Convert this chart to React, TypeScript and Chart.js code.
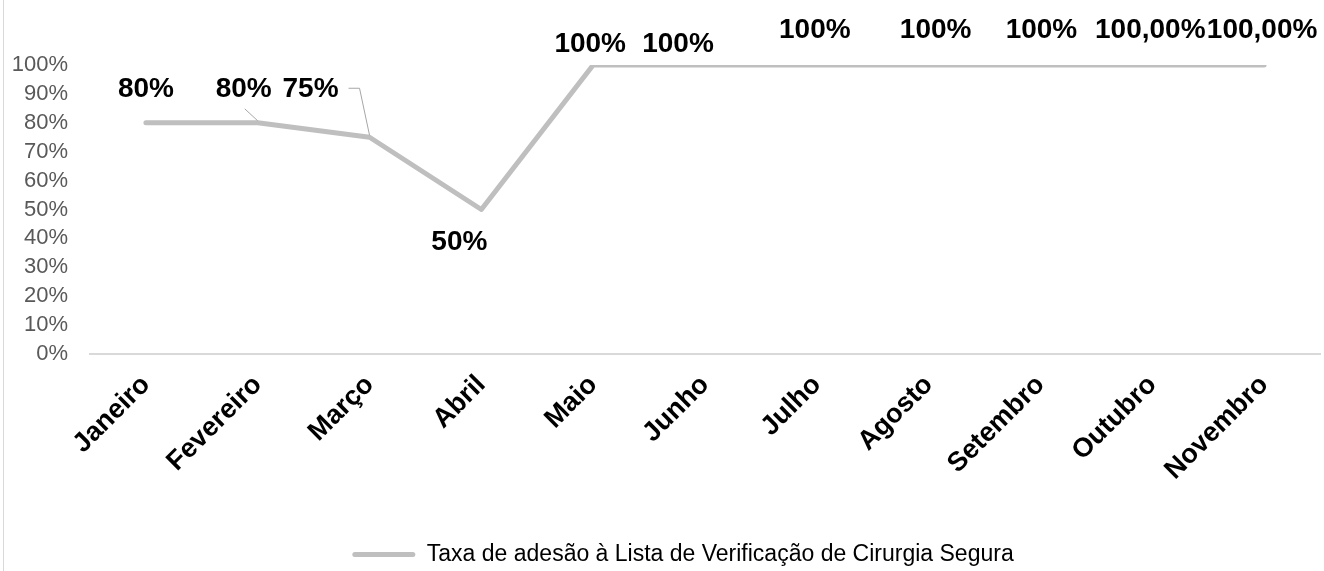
import React, { useEffect, useRef } from "react";
import { Chart, registerables } from "chart.js";

Chart.register(...registerables);

const categories = [
  "Janeiro",
  "Fevereiro",
  "Março",
  "Abril",
  "Maio",
  "Junho",
  "Julho",
  "Agosto",
  "Setembro",
  "Outubro",
  "Novembro",
];
const adesao = [80, 80, 75, 50, 100, 100, 100, 100, 100, 100, 100];
const labelDecimals = [0, 0, 0, 0, 0, 0, 0, 0, 0, 2, 2];
const seriesName = "Taxa de adesão à Lista de Verificação de Cirurgia Segura";
const yMin = 0;
const yMax = 100;
const yStep = 10;

// label placement (style) relative to each point
const labelOffsets: [number, number][] = [
  [0, -34],
  [-14, -34],
  [-59, -48],
  [-22, 33],
  [-3, -21],
  [-27, -21],
  [-2, -35],
  [7, -35],
  [1, -35],
  [-2, -35],
  [-2, -35],
];
// leader lines (style) relative to point: list of polyline vertices
const leaders: Record<number, [number, number][]> = {
  1: [
    [-13, -14],
    [0, -2],
  ],
  2: [
    [-21, -49],
    [-10, -49],
    [0, -2],
  ],
};

const FONT = "'Liberation Sans', Arial, Helvetica, sans-serif";

const fmt = (v: number, d: number) => v.toFixed(d).replace(".", ",") + "%";

const legendShiftPlugin = {
  id: "legendShiftPlugin",
  afterLayout(chart: any) {
    const lg = chart.legend;
    if (!lg) return;
    lg.left += 23;
    lg.right += 23;
    lg.top += 5;
    lg.bottom += 5;
  },
};

const dataLabelPlugin = {
  id: "dataLabelPlugin",
  afterDatasetsDraw(chart: any) {
    const ctx = chart.ctx;
    const meta = chart.getDatasetMeta(0);
    ctx.save();
    ctx.strokeStyle = "#a6a6a6";
    ctx.lineWidth = 1;
    Object.keys(leaders).forEach((k) => {
      const i = Number(k);
      const el = meta.data[i];
      const pts = leaders[i];
      ctx.beginPath();
      pts.forEach((p, j) => {
        const x = el.x + p[0];
        const y = el.y + p[1];
        if (j === 0) ctx.moveTo(x, y);
        else ctx.lineTo(x, y);
      });
      ctx.stroke();
    });
    ctx.font = `bold 28px ${FONT}`;
    ctx.fillStyle = "#000000";
    ctx.textAlign = "center";
    ctx.textBaseline = "middle";
    meta.data.forEach((el: any, i: number) => {
      const [dx, dy] = labelOffsets[i];
      ctx.fillText(fmt(adesao[i], labelDecimals[i]), el.x + dx, el.y + dy);
    });
    ctx.restore();
  },
};

export default function App() {
  const canvasRef = useRef<HTMLCanvasElement | null>(null);

  useEffect(() => {
    if (!canvasRef.current) return;
    const chart = new Chart(canvasRef.current, {
      type: "line",
      data: {
        labels: categories,
        datasets: [
          {
            label: seriesName,
            data: adesao,
            borderColor: "#bfbfbf",
            backgroundColor: "#bfbfbf",
            borderWidth: 5,
            pointRadius: 0,
            pointHoverRadius: 0,
            tension: 0,
            borderJoinStyle: "round",
            borderCapStyle: "round",
          },
        ],
      },
      options: {
        animation: false,
        responsive: false,
        maintainAspectRatio: false,
        layout: { padding: { top: 65, left: 0, right: 4, bottom: 0 } },
        plugins: {
          tooltip: { enabled: false },
          legend: {
            position: "bottom",
            labels: {
              font: { family: FONT, size: 23 },
              color: "#000000",
              boxWidth: 63,
              boxHeight: 5,
              padding: 10,
              generateLabels: (c: any) =>
                Chart.defaults.plugins.legend.labels
                  .generateLabels(c)
                  .map((l: any) => ({ ...l, lineWidth: 0, borderRadius: 2.5 })),
            },
          },
        },
        scales: {
          x: {
            offset: true,
            grid: { display: false, drawTicks: false },
            border: { display: true, color: "#d9d9d9", width: 2 },
            ticks: {
              font: { family: FONT, size: 27, weight: "bold" },
              color: "#000000",
              minRotation: 45,
              maxRotation: 45,
              padding: 15,
              autoSkip: false,
            },
            afterFit: (s: any) => {
              s.height = 174;
            },
          },
          y: {
            min: yMin,
            max: yMax,
            grid: { display: false, drawTicks: false },
            border: { display: false },
            ticks: {
              stepSize: yStep,
              autoSkip: false,
              font: { family: FONT, size: 22 },
              color: "#595959",
              padding: 22,
              callback: (v: any) => v + "%",
            },
            afterFit: (s: any) => {
              s.width = 90;
            },
          },
        },
      },
      plugins: [dataLabelPlugin, legendShiftPlugin],
    });
    return () => chart.destroy();
  }, []);

  return (
    <div
      style={{
        position: "fixed",
        left: 0,
        top: 0,
        width: 1324,
        height: 571,
        background: "#ffffff",
      }}
    >
      <div
        style={{
          position: "absolute",
          left: 3,
          top: 0,
          width: 1,
          height: 571,
          background: "#d9d9d9",
        }}
      />
      <canvas
        ref={canvasRef}
        width={1324}
        height={571}
        style={{ position: "absolute", left: 0, top: 0, width: 1324, height: 571 }}
      />
    </div>
  );
}
